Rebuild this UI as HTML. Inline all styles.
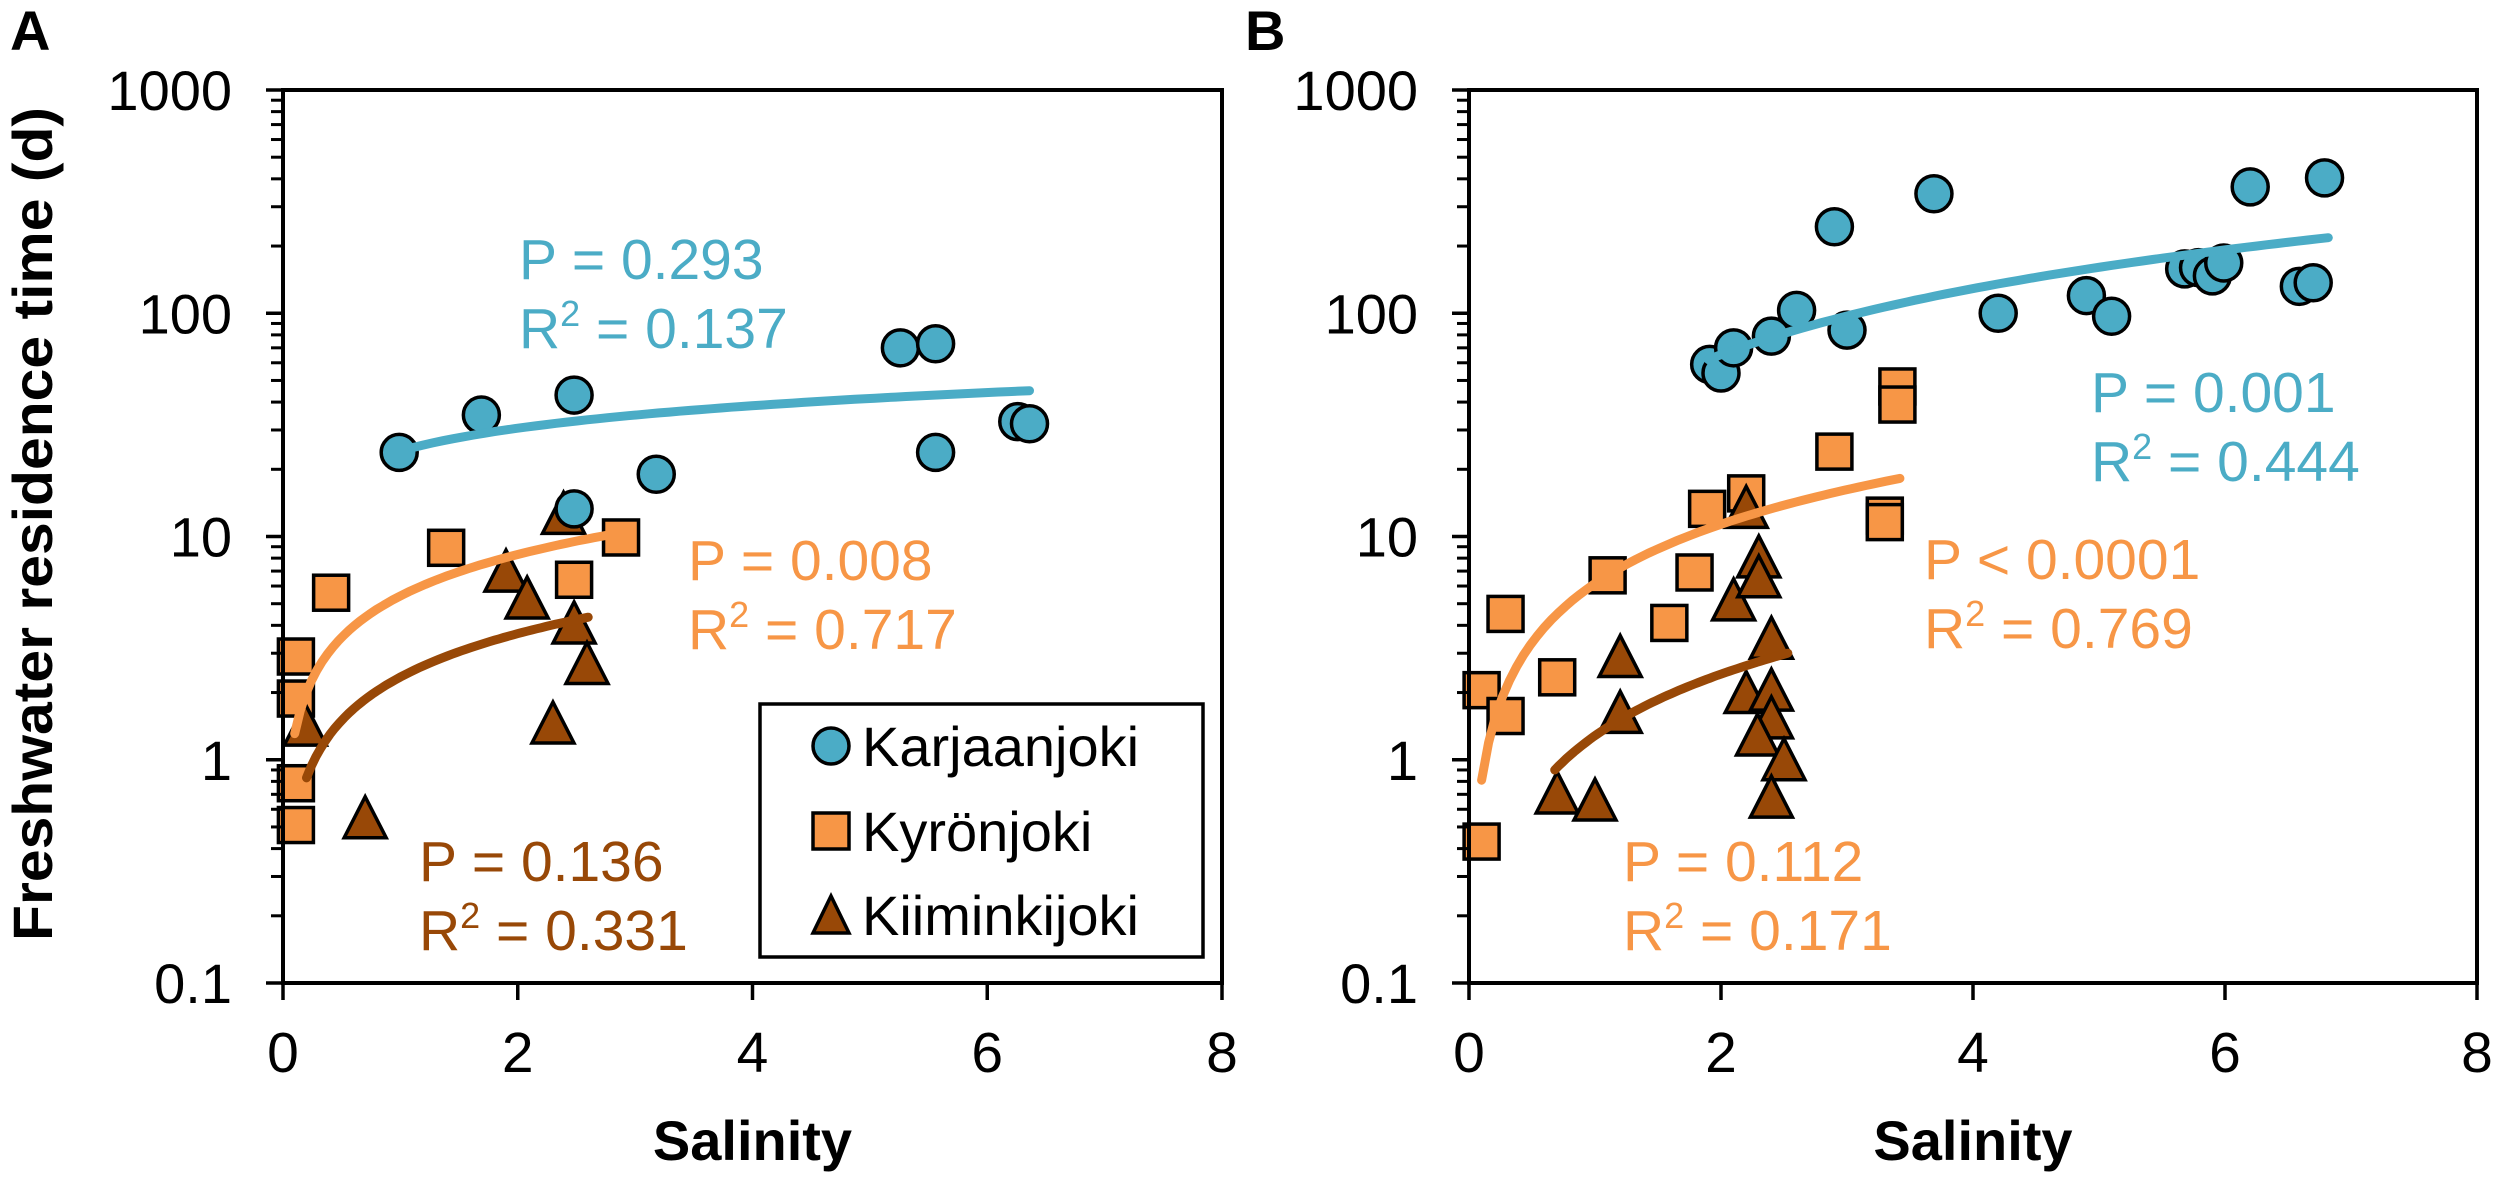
<!DOCTYPE html>
<html><head><meta charset="utf-8"><style>
html,body{margin:0;padding:0;background:#fff;}
svg{display:block;font-family:"Liberation Sans",Arial,sans-serif;}
</style></head><body>
<svg id="fig" width="2500" height="1177" viewBox="0 0 2500 1177" xmlns="http://www.w3.org/2000/svg">
<text x="10" y="50" font-size="56" font-weight="bold">A</text>
<text x="1245" y="50" font-size="56" font-weight="bold">B</text>
<text transform="translate(52,524) rotate(-90)" text-anchor="middle" font-size="56" font-weight="bold" textLength="834" lengthAdjust="spacingAndGlyphs">Freshwater residence time (d)</text>
<g id="gA"></g>
<g id="gB"></g>
</svg>
<script>
const xTicks = [0, 2, 4, 6, 8];
const yTicks = [0.1, 1, 10, 100, 1000];
const yTickLabels = ["0.1", "1", "10", "100", "1000"];
const seriesNames = ["Karjaanjoki", "Kyrönjoki", "Kiiminkijoki"];

// Panel A data
const aKarX = [0.99, 1.69, 2.48, 2.48, 3.18, 5.26, 5.56, 5.56, 6.26, 6.36];
const aKarY = [23.8, 35, 43, 13.3, 19, 70, 73, 23.8, 32.7, 32];
const aKyrX = [0.11, 0.11, 0.11, 0.11, 0.41, 1.39, 2.48, 2.88];
const aKyrY = [2.9, 1.88, 0.785, 0.51, 5.6, 8.9, 6.4, 9.9];
const aKiiX = [0.19, 0.70, 1.9, 2.08, 2.39, 2.48, 2.59, 2.30];
const aKiiY = [1.43, 0.55, 7.0, 5.3, 12.7, 4.1, 2.7, 1.46];
// trendline endpoints [x1, y1, x2, y2] (power fits)
const aKarFit = [1.1, 25, 6.36, 45];
const aKyrFit = [0.1, 1.31, 2.88, 10.4];
const aKiiFit = [0.2, 0.83, 2.6, 4.35];

// Panel B data
const bKarX = [1.91, 2.0, 2.1, 2.4, 2.6, 3.0, 2.9, 3.69, 4.2, 4.9, 5.1, 5.68, 5.79, 5.9, 5.99, 6.2, 6.79, 6.59, 6.7];
const bKarY = [59, 54, 70, 79, 103, 84, 244, 343, 100, 120, 97, 158, 160, 147, 168, 368, 404, 132, 137];
const bKyrX = [0.1, 0.29, 0.29, 0.1, 0.7, 1.1, 1.59, 1.79, 1.89, 2.2, 3.3, 3.3, 3.4, 3.4, 2.9];
const bKyrY = [2.05, 4.5, 1.57, 0.43, 2.34, 6.7, 4.1, 6.9, 13.3, 15.6, 12.4, 11.6, 47, 39, 24];
const bKiiX = [0.7, 1.0, 1.2, 1.2, 2.1, 2.2, 2.3, 2.3, 2.2, 2.4, 2.4, 2.4, 2.29, 2.5, 2.4];
const bKiiY = [0.71, 0.66, 2.9, 1.63, 5.2, 13.5, 8.1, 6.6, 2.0, 3.5, 2.05, 1.54, 1.29, 1.0, 0.68];
const bKarFit = [1.9, 62, 6.82, 218];
const bKyrFit = [0.1, 0.81, 3.42, 18.2];
const bKiiFit = [0.68, 0.9, 2.53, 3.0];

const C = {kar: "#4BACC6", kyr: "#F79646", kii: "#984807"};
const NS = "http://www.w3.org/2000/svg";
function mk(parent, tag, attrs) {
  const e = document.createElementNS(NS, tag);
  for (const k in attrs) e.setAttribute(k, attrs[k]);
  parent.appendChild(e);
  return e;
}
function txt(parent, x, y, s, size, color, anchor) {
  const t = mk(parent, "text", {x: x, y: y, "font-size": size, fill: color, "text-anchor": anchor || "start"});
  t.textContent = s;
  return t;
}
function statText(parent, x, y, p, r2, color, nm) {
  const t1 = txt(parent, x, y, p, 57, color);
  
  
  const t2 = mk(parent, "text", {x: x, y: y + 69, "font-size": 57, fill: color});
  
  
  t2.innerHTML = 'R<tspan font-size="36" dy="-22">2</tspan><tspan dy="22"> = ' + r2 + '</tspan>';
}

function panel(g, L, R, T, B, d, nm) {
  const xs = v => L + (v / 8) * (R - L);
  const ys = v => T + (3 - Math.log10(v)) / 4 * (B - T);
  function fit(f, color, n) {
    const b = Math.log(f[3] / f[1]) / Math.log(f[2] / f[0]);
    const a = f[1] / Math.pow(f[0], b);
    let pts = [];
    for (let i = 0; i <= 60; i++) {
      const x = f[0] + (f[2] - f[0]) * i / 60;
      pts.push(xs(x).toFixed(1) + "," + ys(a * Math.pow(x, b)).toFixed(1));
    }
    const p = mk(g, "polyline", {points: pts.join(" "), fill: "none", stroke: color, "stroke-width": 9, "stroke-linecap": "round"});
    
    
  }
  function circles(X, Y, n) {
    for (let i = 0; i < X.length; i++) {
      const c = mk(g, "circle", {cx: xs(X[i]), cy: ys(Y[i]), r: 18, fill: C.kar, stroke: "#000", "stroke-width": 3.5});
      
      
    }
  }
  function squares(X, Y, n) {
    for (let i = 0; i < X.length; i++) {
      const s = mk(g, "rect", {x: xs(X[i]) - 17.5, y: ys(Y[i]) - 17.5, width: 35, height: 35, fill: C.kyr, stroke: "#000", "stroke-width": 3.5});
      
      
    }
  }
  function tris(X, Y, n) {
    for (let i = 0; i < X.length; i++) {
      const cx = xs(X[i]), cy = ys(Y[i]);
      const t = mk(g, "polygon", {points: (cx - 21) + "," + (cy + 20) + " " + (cx + 21) + "," + (cy + 20) + " " + cx + "," + (cy - 21), fill: C.kii, stroke: "#000", "stroke-width": 3.5});
      
      
    }
  }
  squares(d.kyrX, d.kyrY, nm + "-kyronjoki-point");
  tris(d.kiiX, d.kiiY, nm + "-kiiminkijoki-point");
  circles(d.karX, d.karY, nm + "-karjaanjoki-point");
  fit(d.karFit, C.kar, nm + "-karjaanjoki-trendline");
  fit(d.kyrFit, C.kyr, nm + "-kyronjoki-trendline");
  fit(d.kiiFit, C.kii, nm + "-kiiminkijoki-trendline");
  const fr = mk(g, "rect", {x: L, y: T, width: R - L, height: B - T, fill: "none", stroke: "#000", "stroke-width": 4});
  
  
  for (let i = 0; i < yTicks.length; i++) {
    const y = ys(yTicks[i]);
    const tk = mk(g, "line", {x1: L - 17, x2: L, y1: y, y2: y, stroke: "#000", "stroke-width": 3.5});
    
    
    const lb = txt(g, L - 51, y + 20, yTickLabels[i], 56, "#000", "end");
    
    
    if (i < yTicks.length - 1) {
      for (let m = 2; m <= 9; m++) {
        const ym = ys(yTicks[i] * m);
        const mt = mk(g, "line", {x1: L - 12, x2: L, y1: ym, y2: ym, stroke: "#000", "stroke-width": 3});
        
        
      }
    }
  }
  for (let i = 0; i < xTicks.length; i++) {
    const x = xs(xTicks[i]);
    const tk = mk(g, "line", {x1: x, x2: x, y1: B, y2: B + 17, stroke: "#000", "stroke-width": 3.5});
    
    
    const lb = txt(g, x, B + 89, String(xTicks[i]), 57, "#000", "middle");
    
    
  }
  const xt = txt(g, (L + R) / 2, 1160, "Salinity", 56, "#000", "middle");
  xt.setAttribute("font-weight", "bold");
  
  
}

const gA = document.getElementById("gA");
const gB = document.getElementById("gB");
panel(gA, 283, 1222, 90, 983, {karX: aKarX, karY: aKarY, kyrX: aKyrX, kyrY: aKyrY, kiiX: aKiiX, kiiY: aKiiY, karFit: aKarFit, kyrFit: aKyrFit, kiiFit: aKiiFit}, "panel-a");
panel(gB, 1469, 2477, 90, 983, {karX: bKarX, karY: bKarY, kyrX: bKyrX, kyrY: bKyrY, kiiX: bKiiX, kiiY: bKiiY, karFit: bKarFit, kyrFit: bKyrFit, kiiFit: bKiiFit}, "panel-b");

statText(gA, 519, 279, "P = 0.293", "0.137", C.kar, "panel-a-karjaanjoki");
statText(gA, 688, 580, "P = 0.008", "0.717", C.kyr, "panel-a-kyronjoki");
statText(gA, 419, 881, "P = 0.136", "0.331", C.kii, "panel-a-kiiminkijoki");
statText(gB, 2091, 412, "P = 0.001", "0.444", C.kar, "panel-b-karjaanjoki");
statText(gB, 1924, 579, "P < 0.0001", "0.769", C.kyr, "panel-b-kyronjoki");
statText(gB, 1623, 881, "P = 0.112", "0.171", C.kyr, "panel-b-kiiminkijoki");

const lg = mk(gA, "g", {});


const lbox = mk(lg, "rect", {x: 760, y: 704, width: 443, height: 253, fill: "#fff", stroke: "#000", "stroke-width": 3.5});


const legY = [746, 831, 915];
const m1 = mk(lg, "circle", {cx: 831, cy: legY[0], r: 18, fill: C.kar, stroke: "#000", "stroke-width": 3.5});


const m2 = mk(lg, "rect", {x: 813, y: legY[1] - 18, width: 36, height: 36, fill: C.kyr, stroke: "#000", "stroke-width": 3.5});


const m3 = mk(lg, "polygon", {points: "813," + (legY[2] + 18) + " 849," + (legY[2] + 18) + " 831," + (legY[2] - 19), fill: C.kii, stroke: "#000", "stroke-width": 3.5});


for (let i = 0; i < 3; i++) {
  const t = txt(lg, 862, legY[i] + 20, seriesNames[i], 56, "#000");
  
  
}
</script>
</body></html>
